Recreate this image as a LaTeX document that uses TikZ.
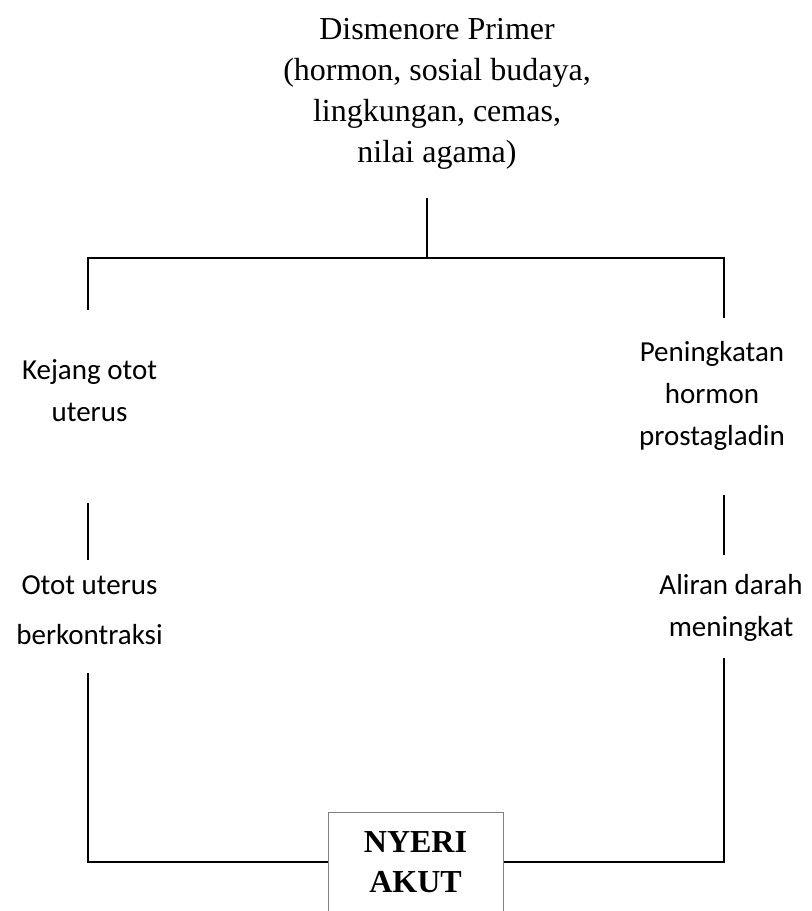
\documentclass[tikz,border=0pt]{standalone}
\usepackage{fontspec}
\setmainfont{Liberation Serif}
\newfontfamily\calibri{Carlito}
\usepackage{tikz}
\usetikzlibrary{positioning}

\tikzset{
	serifbox/.style  = {align=center, inner sep=0pt, font=\fontsize{24}{30.75}\selectfont},
	sansbox/.style   = {align=center, inner sep=0pt, font=\calibri\fontsize{21.75}{31.5}\selectfont},
	resultbox/.style = {draw=black!50, line width=0.75pt, minimum width=131.25pt, minimum height=75pt,
	                    inner sep=0pt, align=center, font=\bfseries\fontsize{24}{30}\selectfont},
	link/.style      = {line width=1.1pt, black},
}

\begin{document}
\begin{tikzpicture}[x=0.75pt, y=-0.75pt]
	\useasboundingbox (0,0) rectangle (811,911);
	\clip (0,0) rectangle (811,911);

	% ---------------------
	% Texts
	\node[serifbox] (Dismenore) at (437,94) {Dismenore Primer\\(hormon, sosial budaya,\\lingkungan, cemas,\\nilai agama)};

	\node[sansbox] (Kejang)       at (89.5,390.5) {Kejang otot\\uterus};
	\node[sansbox] (Prostagladin) at (712,395.5)  {Peningkatan\\hormon\\prostagladin};

	\node[sansbox, font=\calibri\fontsize{21.75}{37.5}\selectfont] (Kontraksi) at (89.5,610) {Otot uterus\\berkontraksi};
	\node[sansbox] (Aliran) at (731,607.5) {Aliran darah\\meningkat};

	\node[resultbox] (Nyeri) at (415.5,862) {NYERI\\AKUT};

	% ---------------------
	% Line ends
	\coordinate (Stem) at (427,198);
	\coordinate (Fork) at (427,258);
	\path (Fork) +(-339,52) coordinate (ForkLeft);
	\path (Fork) +(297,60)  coordinate (ForkRight);

	\coordinate (KejangLow)       at (88,503);
	\path (KejangLow) +(0,57) coordinate (KontraksiTop);
	\coordinate (PeningkatanLow)  at (724,495);
	\path (PeningkatanLow) +(0,60) coordinate (AliranTop);

	\coordinate (KontraksiLow) at (88,673);
	\coordinate (AliranLow)    at (724,658);

	% ---------------------
	% Connectors
	\draw[link] (Stem) -- (Fork);
	\draw[link] (ForkLeft) |- (Fork) -| (ForkRight);

	\draw[link] (KejangLow) -- (KontraksiTop);
	\draw[link] (PeningkatanLow) -- (AliranTop);

	\draw[link] (KontraksiLow) |- (Nyeri.west);
	\draw[link] (AliranLow) |- (Nyeri.east);

\end{tikzpicture}
\end{document}
